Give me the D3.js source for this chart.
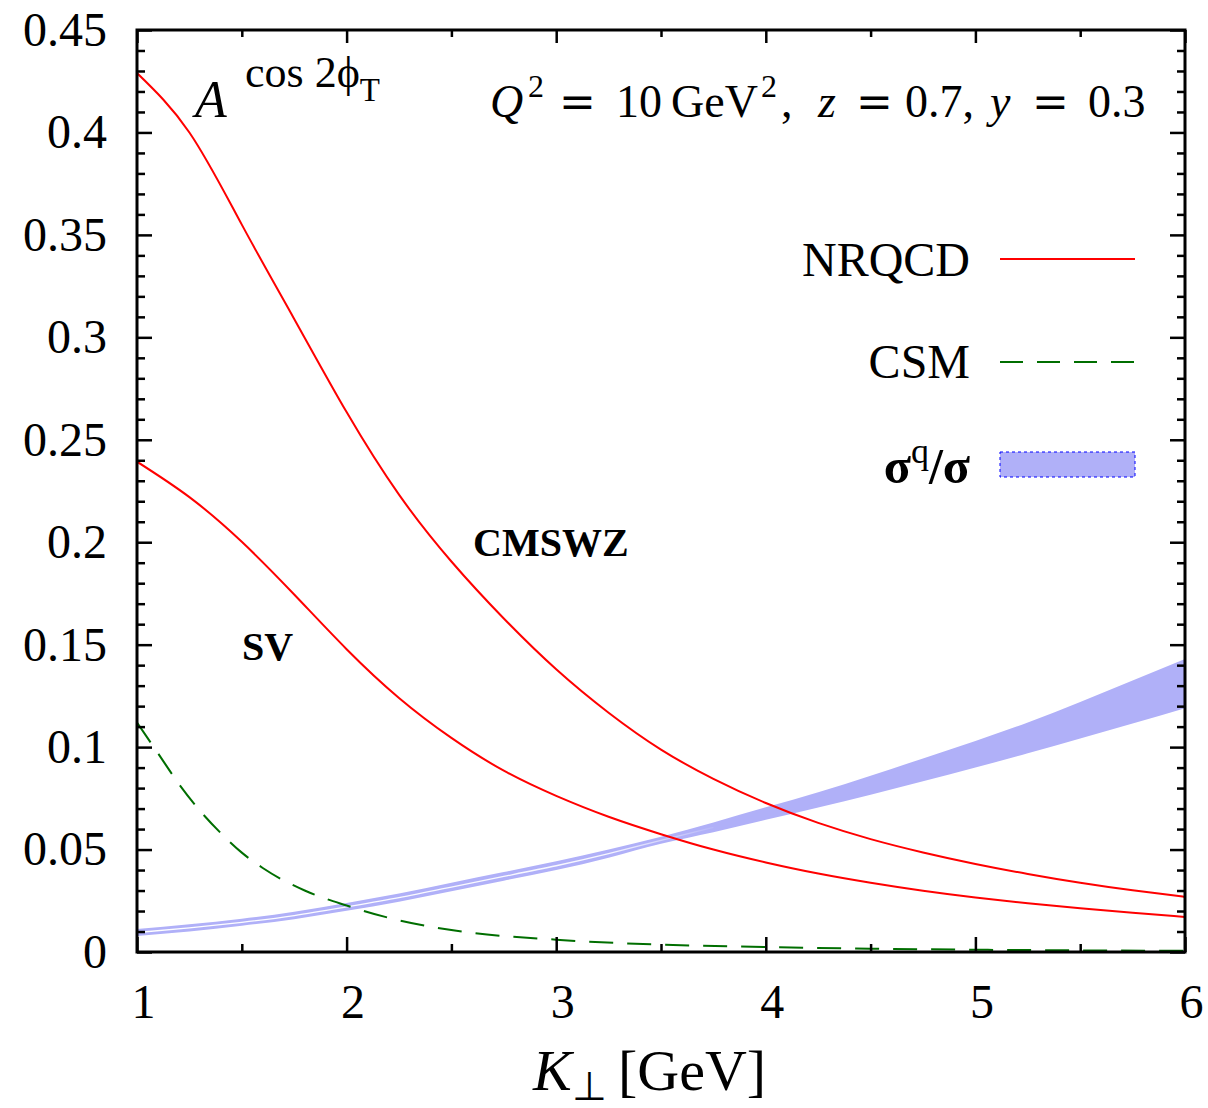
<!DOCTYPE html>
<html>
<head>
<meta charset="utf-8">
<script src="https://cdn.jsdelivr.net/npm/d3@7"></script>
<style>
  html, body { margin: 0; padding: 0; background: #fff; }
  svg { display: block; }
  text { font-family: "Liberation Serif", "Times New Roman", serif; fill: #000; }
</style>
</head>
<body>
<svg id="chart" width="1208" height="1108"></svg>
<script>
// K_perp grid (GeV) shared by the NRQCD curves and the sigma^q/sigma band
const kGrid = [1.0, 1.25, 1.5, 1.75, 2.0, 2.25, 2.5, 2.75, 3.0, 3.25, 3.5,
               3.75, 4.0, 4.25, 4.5, 4.75, 5.0, 5.25, 5.5, 5.75, 6.0];

// NRQCD asymmetry, CMSWZ LDMEs
const nrqcdCMSWZ = [0.429, 0.4000, 0.3550, 0.3090, 0.2635, 0.2232, 0.1906, 0.1628,
                    0.1380, 0.1168, 0.0988, 0.0845, 0.0727, 0.0630, 0.0551, 0.0486,
                    0.0430, 0.0381, 0.0338, 0.0301, 0.0269];

// NRQCD asymmetry, SV LDMEs
const nrqcdSV = [0.2393, 0.2220, 0.2002, 0.1745, 0.1478, 0.1240, 0.1045, 0.0885,
                 0.0762, 0.0660, 0.0575, 0.0500, 0.0437, 0.0383, 0.0338, 0.0299,
                 0.0266, 0.0238, 0.0214, 0.0192, 0.0171];

// Colour-singlet model
const csmK = [1.0, 1.1, 1.2, 1.3, 1.4, 1.5, 1.6, 1.8, 2.0, 2.2, 2.5, 3.0, 3.5, 4.0, 4.5, 5.0, 5.5, 6.0];
const csmVals = [0.112, 0.097, 0.082, 0.069, 0.058, 0.0485, 0.041, 0.030, 0.0227, 0.0167,
                 0.0107, 0.0060, 0.0036, 0.0024, 0.0016, 0.0011, 0.0008, 0.0006];

// sigma^q / sigma band: lower and upper edges
const bandLow = [0.0078, 0.0100, 0.0128, 0.0160, 0.0201, 0.0245, 0.0296, 0.0348,
                 0.0400, 0.0460, 0.0528, 0.0585, 0.0645, 0.0705, 0.0768, 0.0833,
                 0.0900, 0.0970, 0.1042, 0.1115, 0.1190];
const bandHigh = [0.0112, 0.0135, 0.0162, 0.0196, 0.0239, 0.0285, 0.0338, 0.0390,
                  0.0443, 0.0500, 0.0563, 0.0632, 0.0706, 0.0780, 0.0860, 0.0945,
                  0.1030, 0.1120, 0.1220, 0.1325, 0.1430];
// thin unfilled seam running inside the narrow part of the band
const seamK = [1.0, 1.25, 1.5, 1.75, 2.0, 2.25, 2.5, 2.75, 3.0, 3.25, 3.5, 3.75];
const seamVals = [0.0095, 0.0118, 0.0145, 0.0178, 0.0220, 0.0265, 0.0317, 0.0369,
                  0.0421, 0.0480, 0.0545, 0.0608];

// axis ticks
const xMajor = [1, 2, 3, 4, 5, 6];
const xMinor = [1.5, 2.5, 3.5, 4.5, 5.5];
const yMajor = [0, 0.05, 0.1, 0.15, 0.2, 0.25, 0.3, 0.35, 0.4, 0.45];
const yMinor = d3.range(0, 46).filter(i => i % 5 !== 0).map(i => i / 100);

const svg = d3.select("#chart");
const plotL = 137, plotR = 1185, plotT = 30, plotB = 952;

const x = d3.scaleLinear().domain([1, 6]).range([plotL, plotR]);
const y = d3.scaleLinear().domain([0, 0.45]).range([plotB, plotT]);

const defs = svg.append("defs");
defs.append("clipPath").attr("id", "plotClip")
  .append("rect").attr("x", plotL).attr("y", plotT)
  .attr("width", plotR - plotL).attr("height", plotB - plotT);

const grad = defs.append("linearGradient").attr("id", "seamFade")
  .attr("gradientUnits", "userSpaceOnUse")
  .attr("x1", x(1)).attr("x2", x(3.8)).attr("y1", 0).attr("y2", 0);
grad.append("stop").attr("offset", "0").attr("stop-color", "#fff").attr("stop-opacity", 1);
grad.append("stop").attr("offset", "0.8").attr("stop-color", "#fff").attr("stop-opacity", 0.9);
grad.append("stop").attr("offset", "1").attr("stop-color", "#fff").attr("stop-opacity", 0);

const plot = svg.append("g").attr("clip-path", "url(#plotClip)");

// band
const bandData = kGrid.map((k, i) => ({ k, lo: bandLow[i], hi: bandHigh[i] }));
plot.append("path")
  .datum(bandData)
  .attr("fill", "#b0b0f8")
  .attr("d", d3.area().curve(d3.curveNatural)
    .x(d => x(d.k)).y0(d => y(d.lo)).y1(d => y(d.hi)));

const smooth = d3.line().curve(d3.curveNatural).x(d => x(d.k)).y(d => y(d.v));
const mono = d3.line().curve(d3.curveMonotoneX).x(d => x(d.k)).y(d => y(d.v));

plot.append("path")
  .datum(seamK.map((k, i) => ({ k, v: seamVals[i] })))
  .attr("fill", "none")
  .attr("stroke", "url(#seamFade)")
  .attr("stroke-width", 1.3)
  .attr("d", smooth);

// NRQCD curves
[nrqcdCMSWZ, nrqcdSV].forEach(series => {
  plot.append("path")
    .datum(kGrid.map((k, i) => ({ k, v: series[i] })))
    .attr("fill", "none")
    .attr("stroke", "#ff0000")
    .attr("stroke-width", 2)
    .attr("d", smooth);
});

// CSM curve
plot.append("path")
  .datum(csmK.map((k, i) => ({ k, v: csmVals[i] })))
  .attr("fill", "none")
  .attr("stroke", "#006e00")
  .attr("stroke-width", 2)
  .attr("stroke-dasharray", "24,14")
  .attr("d", mono);

// axes: ticks on all four sides pointing inward
const fs = "48px";
function styleAxis(g) {
  g.select(".domain").remove();
  g.selectAll(".tick line").attr("stroke", "#000").attr("stroke-width", 2.5);
  g.selectAll(".tick text").style("font-size", fs).attr("fill", "#000")
    .style("font-family", "'Liberation Serif', serif");
}

svg.append("g").attr("transform", `translate(${plotL},0)`)
  .call(d3.axisLeft(y).tickValues(yMajor).tickSize(-15).tickPadding(30)
    .tickFormat(d => String(+d.toFixed(2))))
  .call(styleAxis);
svg.append("g").attr("transform", `translate(${plotL},0)`)
  .call(d3.axisLeft(y).tickValues(yMinor).tickSize(-8).tickFormat(""))
  .call(styleAxis);
svg.append("g").attr("transform", `translate(${plotR},0)`)
  .call(d3.axisRight(y).tickValues(yMajor).tickSize(-15).tickFormat(""))
  .call(styleAxis);
svg.append("g").attr("transform", `translate(${plotR},0)`)
  .call(d3.axisRight(y).tickValues(yMinor).tickSize(-8).tickFormat(""))
  .call(styleAxis);

const xAxisG = svg.append("g").attr("transform", `translate(0,${plotB})`)
  .call(d3.axisBottom(x).tickValues(xMajor).tickSize(-15).tickPadding(32).tickFormat(d3.format("d")))
  .call(styleAxis);
xAxisG.selectAll(".tick text").attr("dx", 6);
svg.append("g").attr("transform", `translate(0,${plotB})`)
  .call(d3.axisBottom(x).tickValues(xMinor).tickSize(-8).tickFormat(""))
  .call(styleAxis);
svg.append("g").attr("transform", `translate(0,${plotT})`)
  .call(d3.axisTop(x).tickValues(xMajor).tickSize(-13).tickFormat(""))
  .call(styleAxis);
svg.append("g").attr("transform", `translate(0,${plotT})`)
  .call(d3.axisTop(x).tickValues(xMinor).tickSize(-7).tickFormat(""))
  .call(styleAxis);

// frame
svg.append("rect")
  .attr("x", plotL).attr("y", plotT)
  .attr("width", plotR - plotL).attr("height", plotB - plotT)
  .attr("fill", "none").attr("stroke", "#000").attr("stroke-width", 3);

// x-axis title
const xt = svg.append("text").attr("x", 533).attr("y", 1090).style("font-size", "58px");
xt.append("tspan").style("font-style", "italic").text("K");
xt.append("tspan").attr("dy", 10).style("font-size", "40px").text("⊥");
xt.append("tspan").attr("x", 618).attr("dy", -10).text("[GeV]");

// y-axis title inside the frame
const yt = svg.append("text").attr("x", 195).attr("y", 117).style("font-size", "52px");
yt.append("tspan").style("font-style", "italic").text("A");
yt.append("tspan").attr("x", 245).attr("y", 87).style("font-size", "44px").text("cos 2ϕ");
yt.append("tspan").attr("y", 101).style("font-size", "33px").text("T");

// kinematics
const kin = svg.append("text").attr("y", 117).style("font-size", "46px").attr("fill", "#2a2a2a");
const kinParts = [
  { t: "Q", x: 490, it: true },
  { t: "2", x: 528, sup: true },
  { t: "=", x: 559 },
  { t: "10", x: 616 },
  { t: "GeV", x: 671 },
  { t: "2", x: 761, sup: true },
  { t: ",", x: 781 },
  { t: "z", x: 818, it: true },
  { t: "=", x: 856 },
  { t: "0.7,", x: 905 },
  { t: "y", x: 990, it: true },
  { t: "=", x: 1032 },
  { t: "0.3", x: 1088 }
];
kinParts.forEach(p => {
  const s = kin.append("tspan").attr("x", p.x).attr("y", p.sup ? 97 : 117).text(p.t);
  if (p.it) s.style("font-style", "italic");
  if (p.sup) s.style("font-size", "32px");
  if (p.t === "=") s.style("font-family", "'DejaVu Serif', serif").style("font-size", "44px");
});

// curve labels
svg.append("text").attr("x", 473).attr("y", 556)
  .style("font-size", "40px").style("font-weight", "bold").text("CMSWZ");
svg.append("text").attr("x", 242).attr("y", 660)
  .style("font-size", "40px").style("font-weight", "bold").text("SV");

// legend
const legX0 = 1000, legX1 = 1135, legTextX = 970;
svg.append("text").attr("x", legTextX).attr("y", 276).attr("text-anchor", "end")
  .style("font-size", "48px").text("NRQCD");
svg.append("line").attr("x1", legX0).attr("x2", legX1).attr("y1", 259).attr("y2", 259)
  .attr("stroke", "#ff0000").attr("stroke-width", 2);

svg.append("text").attr("x", legTextX).attr("y", 378).attr("text-anchor", "end")
  .style("font-size", "48px").text("CSM");
svg.append("line").attr("x1", legX0).attr("x2", legX1).attr("y1", 362).attr("y2", 362)
  .attr("stroke", "#006e00").attr("stroke-width", 2).attr("stroke-dasharray", "23,14");

const sg = svg.append("text").attr("x", legTextX).attr("y", 483).attr("text-anchor", "end")
  .style("font-size", "50px").style("font-weight", "bold");
sg.append("tspan").text("σ");
sg.append("tspan").attr("dy", -20).style("font-size", "36px").style("font-weight", "normal").text("q");
sg.append("tspan").attr("dy", 20).text("/σ");
svg.append("rect").attr("x", legX0).attr("y", 452).attr("width", legX1 - legX0).attr("height", 25)
  .attr("fill", "#b0b0f8").attr("stroke", "#0000ff").attr("stroke-width", 1)
  .attr("stroke-dasharray", "3,3");
</script>
</body>
</html>
